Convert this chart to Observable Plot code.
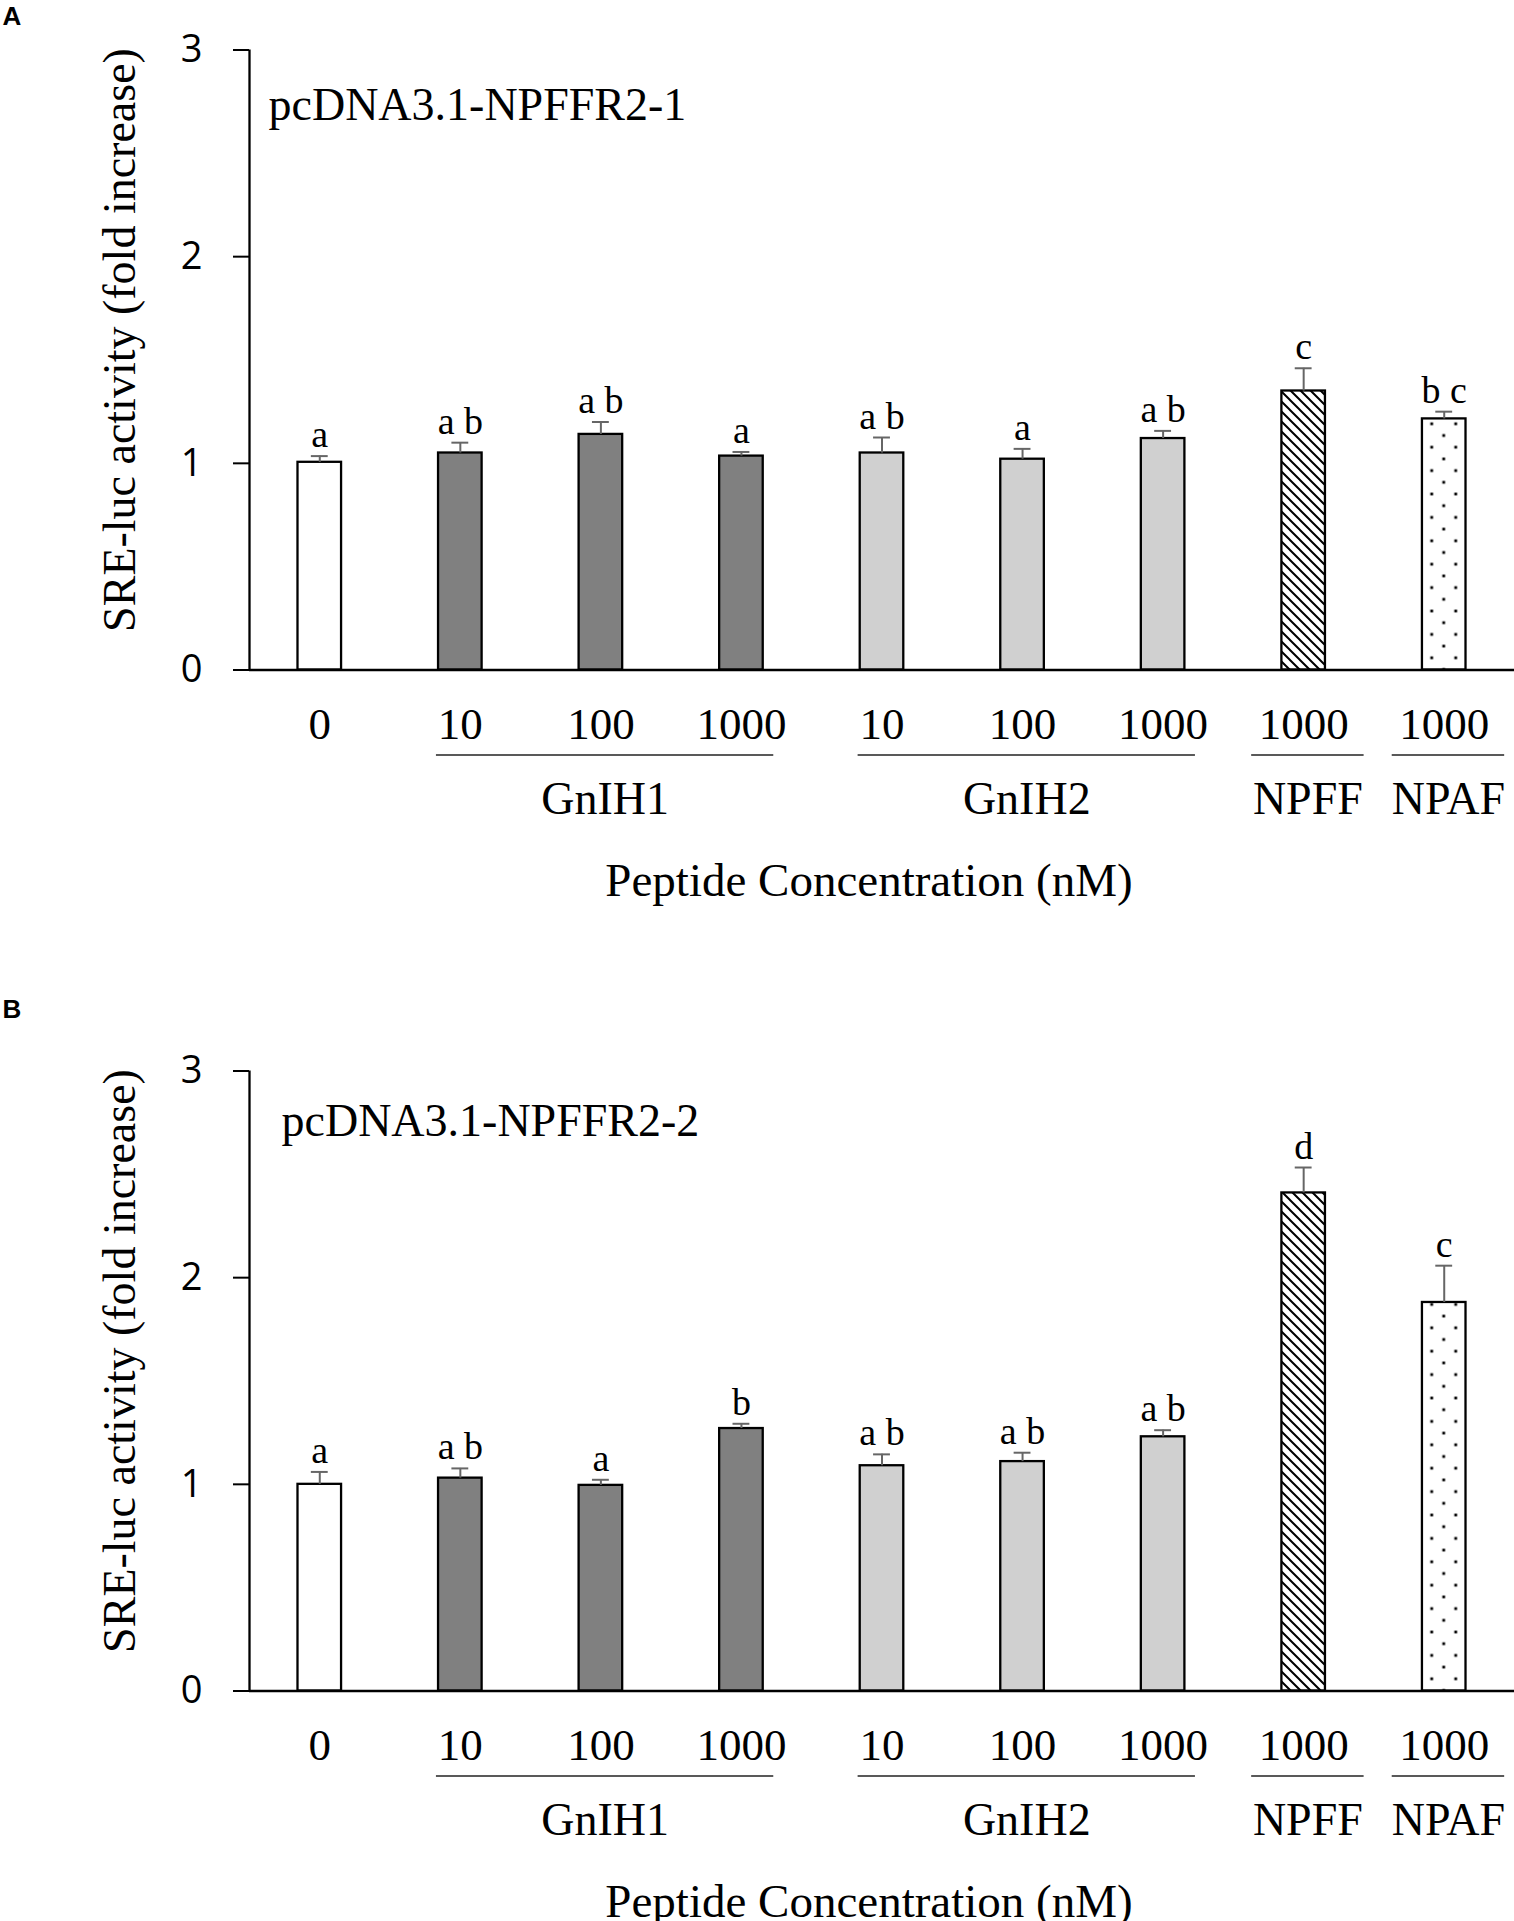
<!DOCTYPE html>
<html>
<head>
<meta charset="utf-8">
<script src="https://cdn.jsdelivr.net/npm/d3@7"></script>
<script src="https://cdn.jsdelivr.net/npm/@observablehq/plot@0.6"></script>
<style>
html, body { margin: 0; padding: 0; background: #fff; }
#chart svg { display: block; }
</style>
</head>
<body>
<div id="chart"></div>
<script>
// ---------- data ----------
const categories = ["0", "10", "100", "1000", "10", "100", "1000", "1000", "1000"];
const barKinds   = ["ctrl", "g1", "g1", "g1", "g2", "g2", "g2", "npff", "npaf"];
const groupLabels = ["GnIH1", "GnIH2", "NPFF", "NPAF"];
const groupFirst  = [1, 4, 7, 8];
const groupLast   = [3, 6, 7, 8];

const meanA    = [1.005, 1.05, 1.14, 1.035, 1.05, 1.02, 1.12, 1.35, 1.215];
const errA     = [0.03, 0.05, 0.06, 0.02, 0.075, 0.05, 0.037, 0.11, 0.035];
const lettersA = ["a", "a b", "a b", "a", "a b", "a", "a b", "c", "b c"];

const meanB    = [1.0, 1.03, 0.995, 1.27, 1.09, 1.11, 1.23, 2.41, 1.88];
const errB     = [0.06, 0.047, 0.027, 0.023, 0.055, 0.043, 0.032, 0.123, 0.178];
const lettersB = ["a", "a b", "a", "b", "a b", "a b", "a b", "d", "c"];

const yTicks = [0, 1, 2, 3];
const yTitle = "SRE-luc activity (fold increase)";
const xTitle = "Peptide Concentration (nM)";

// ---------- drawing ----------
const serif = "'Liberation Serif', 'Times New Roman', serif";
const sans = "'Open Sans', 'Liberation Sans', sans-serif";

function panel(p) {
  const fills = {
    ctrl: "#ffffff",
    g1: "#808080",
    g2: "#d0d0d0",
    npff: `url(#hatch-${p.id})`,
    npaf: `url(#dots-${p.id})`
  };
  const rows = categories.map((c, i) => ({
    i, cat: c, kind: barKinds[i], mean: p.mean[i], top: p.mean[i] + p.err[i], letter: p.letters[i]
  }));
  const groups = groupLabels.map((g, j) => {
    const f = groupFirst[j], l = groupLast[j];
    return { label: g, mid: (f + l) / 2 + 0.03, half: (l - f) / 2 + (l === f ? 0.4 : 0.2) };
  });
  const kinds = Array.from(new Set(barKinds));

  const svg = Plot.plot({
    width: 1514,
    height: p.height,
    marginTop: p.marginTop,
    marginBottom: p.height - p.marginTop - 620,
    marginLeft: 249,
    marginRight: 0,
    x: { domain: [-0.5, 8.5], axis: null },
    y: { domain: [0, 3] },
    style: { color: "#000", background: "#fff" },
    marks: [
      ...kinds.map(k => Plot.rect(rows.filter(r => r.kind === k), {
        x1: r => r.i - 0.155, x2: r => r.i + 0.155, y1: 0, y2: "mean",
        fill: fills[k], stroke: "#000", strokeWidth: 2.3
      })),
      Plot.ruleX(rows, { x: "i", y1: "mean", y2: "top", stroke: "#666", strokeWidth: 2 }),
      Plot.ruleY(rows, { y: "top", x1: r => r.i - 0.06, x2: r => r.i + 0.06, stroke: "#666", strokeWidth: 2 }),
      Plot.text(rows, { x: "i", y: "top", text: "letter", dy: -9, lineAnchor: "bottom",
        fontSize: 38, fontFamily: serif, fill: "#000" }),
      Plot.axisY({ ticks: yTicks, tickSize: 16, tickPadding: 31, fontSize: 38, fontFamily: sans,
        label: null, strokeWidth: 2, tickFormat: d => String(d) }),
      Plot.ruleX([-0.5], { x: d => d, y1: 0, y2: 3, strokeWidth: 2.3, stroke: "#000" }),
      Plot.ruleY([0], { strokeWidth: 2.3, stroke: "#000" }),
      Plot.text(rows, { x: "i", text: "cat", frameAnchor: "bottom", dy: 69, lineAnchor: "bottom",
        fontSize: 45, fontFamily: serif, fill: "#000" }),
      Plot.ruleY(groups, { y: () => 0, x1: g => g.mid - g.half, x2: g => g.mid + g.half, dy: 85,
        stroke: "#222", strokeWidth: 1.6 }),
      Plot.text(groups, { x: "mid", text: "label", frameAnchor: "bottom", dy: 144, lineAnchor: "bottom",
        fontSize: 46, fontFamily: serif, fill: "#000" }),
      Plot.text([xTitle], { text: d => d, frameAnchor: "bottom", dx: -13, dy: 226, lineAnchor: "bottom",
        fontSize: 47, fontFamily: serif, fill: "#000" }),
      Plot.text([yTitle], { text: d => d, frameAnchor: "left", rotate: -90, dx: -115, dy: -20,
        textAnchor: "middle", lineAnchor: "bottom", fontSize: 46, fontFamily: serif, fill: "#000" }),
      Plot.text([p.construct], { text: d => d, frameAnchor: "top-left", dx: p.labelDx, dy: p.labelDy,
        textAnchor: "start", lineAnchor: "bottom", fontSize: 46, fontFamily: serif, fill: "#000" }),
      Plot.text([p.letter], { text: d => d, frameAnchor: "top-left", dx: 2 - 249, dy: p.letterBase - p.marginTop,
        textAnchor: "start", lineAnchor: "bottom", fontSize: 26, fontWeight: "bold",
        fontFamily: "'Liberation Sans', Arial, sans-serif", fill: "#000" })
    ]
  });

  const xs = svg.scale("x"), ys = svg.scale("y");
  const cx = xs.apply(8), y0 = ys.apply(0);
  const ns = "http://www.w3.org/2000/svg";
  const defs = document.createElementNS(ns, "defs");
  defs.innerHTML =
    `<pattern id="hatch-${p.id}" patternUnits="userSpaceOnUse" width="10" height="10">` +
      `<rect width="10" height="10" fill="#fff"/>` +
      `<path d="M-1,-1 L11,11 M-1,9 L1,11 M9,-1 L11,1" stroke="#000" stroke-width="2"/>` +
    `</pattern>` +
    `<pattern id="dots-${p.id}" patternUnits="userSpaceOnUse" x="${cx - 18}" y="${y0 - 17.55}" width="24" height="23.4">` +
      `<rect width="24" height="23.4" fill="#fff"/>` +
      `<rect x="4.6" y="4.45" width="2.8" height="2.8" fill="#000"/>` +
      `<rect x="16.6" y="16.15" width="2.8" height="2.8" fill="#000"/>` +
    `</pattern>`;
  svg.insertBefore(defs, svg.firstChild);
  return svg;
}

const chart = document.getElementById("chart");
chart.appendChild(panel({
  id: "A", letter: "A", construct: "pcDNA3.1-NPFFR2-1",
  mean: meanA, err: errA, letters: lettersA,
  height: 990, marginTop: 49.5, labelDx: 19, labelDy: 69.5, letterBase: 24
}));
chart.appendChild(panel({
  id: "B", letter: "B", construct: "pcDNA3.1-NPFFR2-2",
  mean: meanB, err: errB, letters: lettersB,
  height: 931, marginTop: 80.5, labelDx: 32, labelDy: 64.5, letterBase: 27
}));
</script>
</body>
</html>
